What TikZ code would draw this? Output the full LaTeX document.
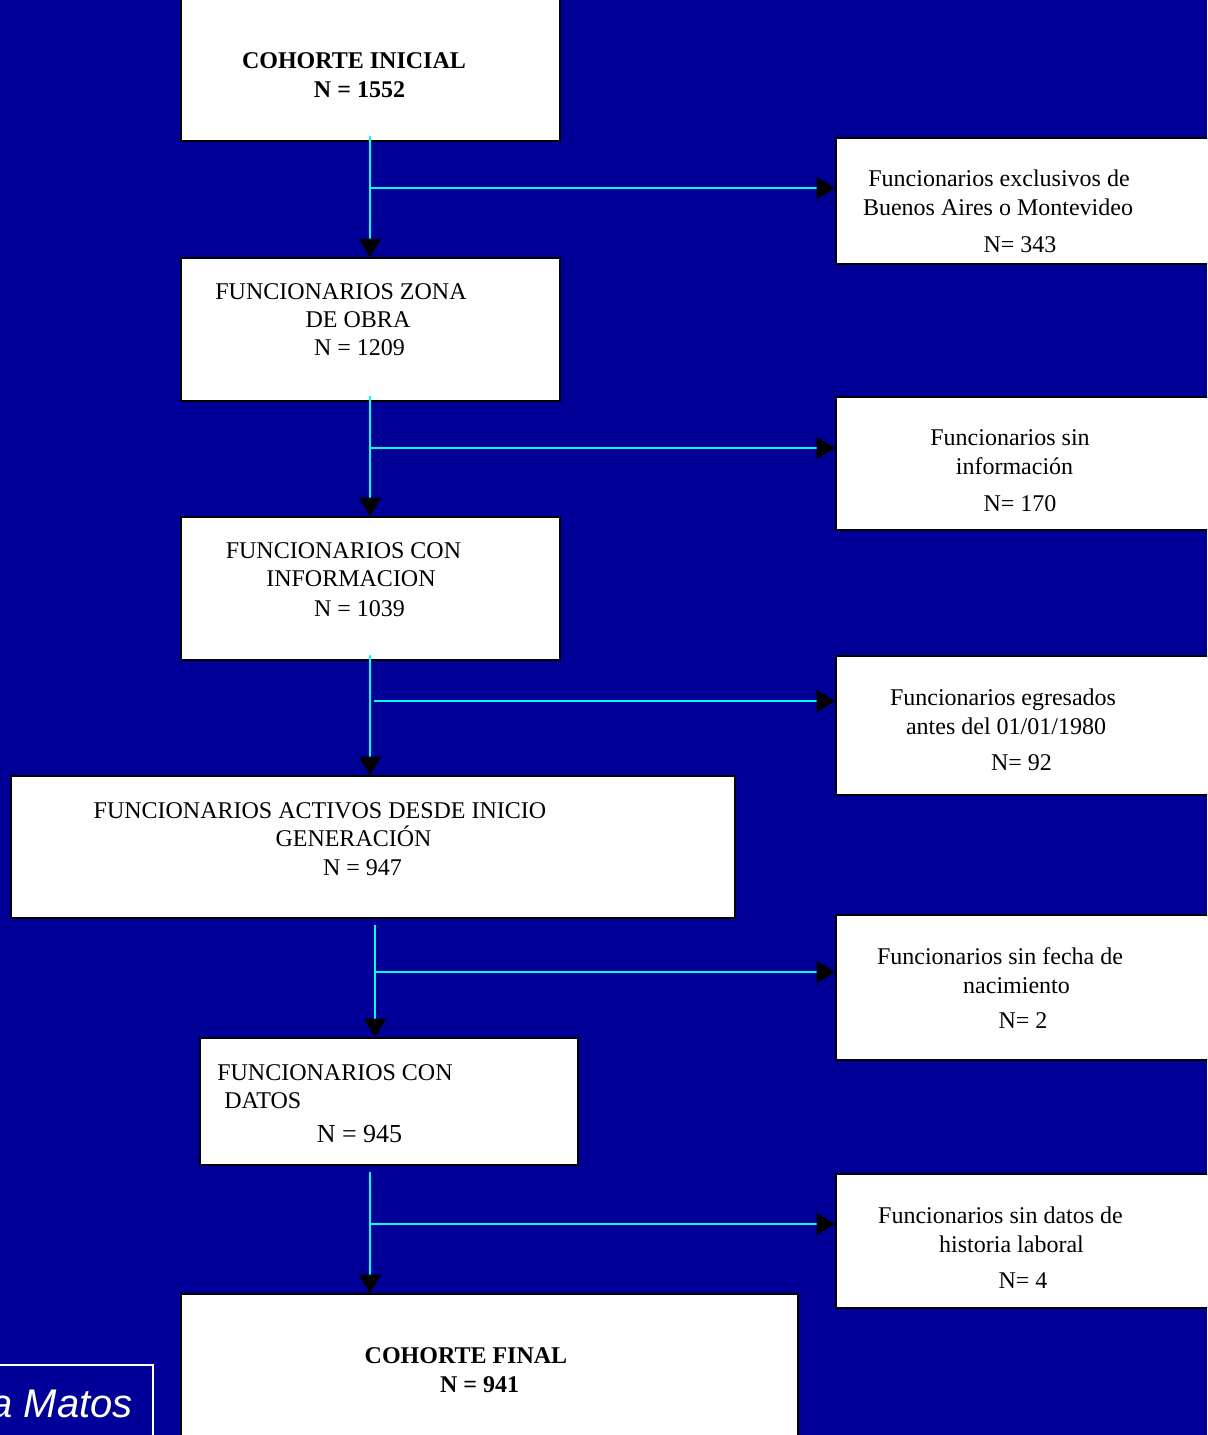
\documentclass[tikz,border=0pt]{standalone}
\usepackage{fontspec}
\setmainfont{Liberation Serif}
\setsansfont{Liberation Sans}
\usetikzlibrary{arrows.meta,fit}
\definecolor{fondo}{RGB}{0,0,153}
\definecolor{linea}{RGB}{0,255,255}
\tikzset{
  caja/.style={draw=black,line width=1pt,fill=white,inner sep=0pt},
  txt/.style={anchor=base,inner sep=0pt,font=\fontsize{18}{21}\selectfont},
  txtb/.style={anchor=base,inner sep=0pt,font=\fontsize{18}{21}\selectfont\bfseries},
  flujo/.style={draw=linea,line width=1.4pt,-{Triangle[color=black,length=14pt,width=16.5pt]}},
}
\begin{document}
\begin{tikzpicture}[x=0.75pt,y=0.75pt,yscale=-1,xscale=1]
\path[use as bounding box] (0,0) rectangle (1207,1435);
\clip (0,0) rectangle (1207,1435);
\fill[fondo] (0,0) rectangle (1207,1435);

%Cajas izquierda
\node[caja,fit={(181,-5) (560,141)}] (ini) {};
\node[caja,fit={(181,258) (560,401)}] (zona) {};
\node[caja,fit={(181,517) (560,660)}] (info) {};
\node[caja,fit={(11,776) (735,918)}] (activos) {};
\node[caja,fit={(200,1038) (578,1165)}] (datos) {};
\node[caja,fit={(181,1294) (798,1445)}] (fin) {};
%Cajas derecha
\node[caja,fit={(836,138) (1215,264)}] (excl) {};
\node[caja,fit={(836,397) (1215,530)}] (sininfo) {};
\node[caja,fit={(836,656) (1215,795)}] (egres) {};
\node[caja,fit={(836,915) (1215,1060)}] (sinfecha) {};
\node[caja,fit={(836,1174) (1215,1308)}] (sinhist) {};

% Text Node
\node[txtb] (ini1) at (354,68) {COHORTE INICIAL};
\node[txtb] (ini2) at (359.5,97) {N = 1552};
% Text Node
\node[txt] (zona1) at (341,299) {FUNCIONARIOS ZONA};
\node[txt] (zona2) at (358,327) {DE OBRA};
\node[txt] (zona3) at (359.5,355) {N = 1209};
% Text Node
\node[txt] (info1) at (343.5,558) {FUNCIONARIOS CON};
\node[txt] (info2) at (351,586) {INFORMACION};
\node[txt] (info3) at (359.5,616) {N = 1039};
% Text Node
\node[txt] (act1) at (320,818) {FUNCIONARIOS ACTIVOS DESDE INICIO};
\node[txt] (act2) at (353.5,846) {GENERACIÓN};
\node[txt] (act3) at (362.5,875) {N = 947};
% Text Node
\node[txt,anchor=base west] (dat1) at (217,1080) {FUNCIONARIOS CON};
\node[txt,anchor=base west] (dat2) at (224,1108) {DATOS};
\node[txt,font=\fontsize{19.5}{22}\selectfont] (dat3) at (359.5,1142) {N = 945};
% Text Node
\node[txtb] (fin1) at (466,1363) {COHORTE FINAL};
\node[txtb] (fin2) at (479.5,1392) {N = 941};

% Text Node
\node[txt] (excl1) at (999,186) {Funcionarios exclusivos de};
\node[txt] (excl2) at (998,215) {Buenos Aires o Montevideo};
\node[txt] (excl3) at (1020,252) {N= 343};
% Text Node
\node[txt] (sinfo1) at (1010,445) {Funcionarios sin};
\node[txt] (sinfo2) at (1014.5,474) {información};
\node[txt] (sinfo3) at (1020,511) {N= 170};
% Text Node
\node[txt] (egr1) at (1003,705) {Funcionarios egresados};
\node[txt] (egr2) at (1006,734) {antes del 01/01/1980};
\node[txt] (egr3) at (1021.5,770) {N= 92};
% Text Node
\node[txt] (sfe1) at (1000,964) {Funcionarios sin fecha de};
\node[txt] (sfe2) at (1016.5,993) {nacimiento};
\node[txt] (sfe3) at (1023,1028) {N= 2};
% Text Node
\node[txt] (shi1) at (1000.5,1223) {Funcionarios sin datos de};
\node[txt] (shi2) at (1011.5,1252) {historia laboral};
\node[txt] (shi3) at (1023,1288) {N= 4};

%Autor
\node[draw=white,line width=0.8pt,inner sep=0pt,fit={(-10,1365) (153,1445)}] (autor) {};
\node[anchor=base east,inner sep=0pt,text=white,font=\sffamily\itshape\fontsize{30}{36}\selectfont] (autortxt) at (133,1417) {a Matos};

%Flechas
\coordinate (c1) at (370,188);
\coordinate (v1) at (370,136);
\draw[flujo] (v1) -- (v1 |- zona.north);
\draw[flujo] (c1) -- (c1 -| excl.west);
\coordinate (c2) at (370,448);
\coordinate (v2) at (370,396);
\draw[flujo] (v2) -- (v2 |- info.north);
\draw[flujo] (c2) -- (c2 -| sininfo.west);
\coordinate (v3) at (370,655);
\coordinate (c3) at (374,701);
\draw[flujo] (v3) -- (v3 |- activos.north);
\draw[flujo] (c3) -- (c3 -| egres.west);
\coordinate (v4) at (375,925);
\coordinate (c4) at (375,972);
\draw[flujo] (v4) -- (v4 |- datos.north);
\draw[flujo] (c4) -- (c4 -| sinfecha.west);
\coordinate (v5) at (370,1172);
\coordinate (c5) at (370,1224);
\draw[flujo] (v5) -- (v5 |- fin.north);
\draw[flujo] (c5) -- (c5 -| sinhist.west);
\end{tikzpicture}
\end{document}
